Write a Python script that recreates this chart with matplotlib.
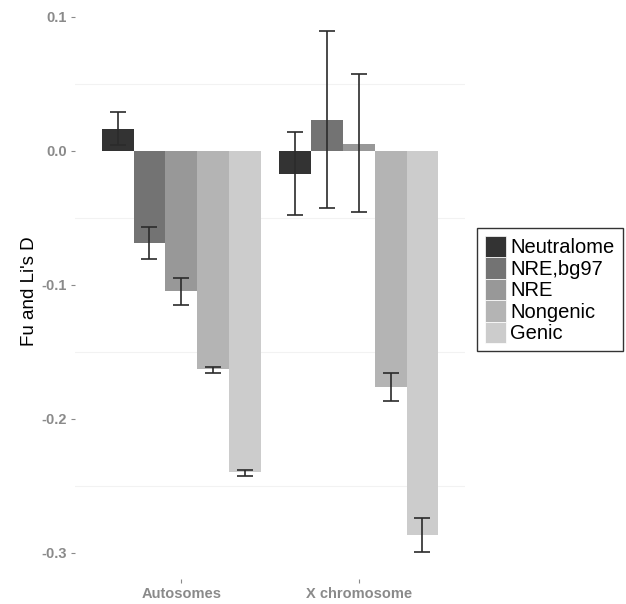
import matplotlib
matplotlib.use("Agg")
import matplotlib.pyplot as plt
from matplotlib.patches import Patch
import numpy as np

plt.rcParams['font.family'] = ['Liberation Sans', 'DejaVu Sans']

categories = ["Autosomes", "X chromosome"]
series = ["Neutralome", "NRE,bg97", "NRE", "Nongenic", "Genic"]
colors = ["#333333", "#737373", "#989898", "#B4B4B4", "#CCCCCC"]

# values per series: [Autosomes, X chromosome]
values = {
    "Neutralome": [0.016, -0.017],
    "NRE,bg97":   [-0.069, 0.023],
    "NRE":        [-0.105, 0.005],
    "Nongenic":   [-0.163, -0.176],
    "Genic":      [-0.240, -0.287],
}
err_low = {
    "Neutralome": [0.004, -0.048],
    "NRE,bg97":   [-0.081, -0.043],
    "NRE":        [-0.115, -0.046],
    "Nongenic":   [-0.166, -0.187],
    "Genic":      [-0.243, -0.299],
}
err_high = {
    "Neutralome": [0.029, 0.014],
    "NRE,bg97":   [-0.057, 0.089],
    "NRE":        [-0.095, 0.057],
    "Nongenic":   [-0.161, -0.166],
    "Genic":      [-0.238, -0.274],
}

fig = plt.figure(figsize=(6.26, 6.04), dpi=100)
ax = fig.add_axes([75/626, 1-579/604, 390/626, 575/604])

x = np.arange(1, len(categories) + 1)
n = len(series)
w = 0.9 / n
for i, s in enumerate(series):
    pos = x + (i - (n - 1) / 2) * w
    v = np.array(values[s])
    lo = np.array(err_low[s])
    hi = np.array(err_high[s])
    ax.bar(pos, v, width=w, color=colors[i], edgecolor='none', zorder=2)
    ax.errorbar(pos, v, yerr=[v - lo, hi - v], fmt='none', ecolor='#2b2b2b',
                elinewidth=1.2, capsize=6, capthick=1.2, zorder=3)

ax.set_xlim(0.4, 2.6)
ax.set_ylim(-0.3195, 0.1095)
ax.set_yticks([0.1, 0.0, -0.1, -0.2, -0.3])
ax.set_yticklabels(["0.1", "0.0", "-0.1", "-0.2", "-0.3"])
ax.set_xticks(x)
ax.set_xticklabels(categories, fontweight='bold')
for yv in [0.05, -0.05, -0.15, -0.25]:
    ax.axhline(yv, color='#f2f2f2', lw=0.8, zorder=0)
for sp in ax.spines.values():
    sp.set_visible(False)
ax.tick_params(axis='y', colors='#8a8a8a', labelcolor='#8a8a8a', labelsize=10.5,
               length=3, width=0.8, pad=3)
ax.tick_params(axis='x', colors='#8a8a8a', labelcolor='#8a8a8a', labelsize=10.5,
               length=3, width=0.8, pad=3)
for lbl in ax.get_yticklabels():
    lbl.set_fontweight('bold')
ax.set_ylabel("Fu and Li's D", fontsize=13.5, labelpad=2)

handles = [Patch(facecolor=c, edgecolor='white', linewidth=0.5) for c in colors]
leg = fig.legend(handles, series, loc='upper left',
                 bbox_to_anchor=(477/626, 1-228/604), fontsize=14.5,
                 frameon=True, fancybox=False, edgecolor='black',
                 handlelength=1.05, handleheight=1.25, labelspacing=0.0,
                 handletextpad=0.2, borderpad=0.4, borderaxespad=0)
leg.get_frame().set_linewidth(1.0)

fig.savefig("out.png", dpi=100)
